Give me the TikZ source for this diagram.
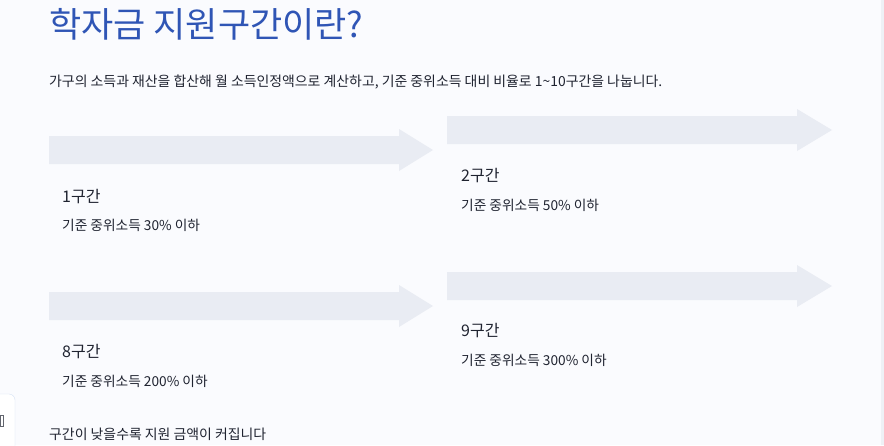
\documentclass[tikz,border=0pt]{standalone}
\usepackage{fontspec}
\setmainfont{Noto Sans CJK KR}
\usepackage{tikz}

\definecolor{pagebg}{HTML}{FAFBFE}
\definecolor{titleblue}{HTML}{2F55B5}
\definecolor{bandgray}{HTML}{E9ECF3}
\definecolor{inkdark}{HTML}{1F2330}
\definecolor{edgeblue}{HTML}{D5E2F5}
\definecolor{stripgray}{HTML}{EEF1F6}

\tikzset{
  title/.style={anchor=base west, inner sep=0pt, text=titleblue, font=\fontsize{35}{40}\selectfont},
  lead/.style={anchor=base west, inner sep=0pt, text=inkdark, font=\fontsize{13.9}{16}\selectfont},
  bandname/.style={anchor=base west, inner sep=0pt, text=inkdark, font=\fontsize{16}{19}\selectfont},
  bandnote/.style={anchor=base west, inner sep=0pt, text=inkdark, font=\fontsize{13.7}{16}\selectfont},
  bandarrow/.style={fill=bandgray},
}

\begin{document}
\begin{tikzpicture}[x=1pt,y=-1pt]
      \useasboundingbox (0,0) rectangle (884,445);
      \fill[pagebg] (0,0) rectangle (884,445);
      \fill[stripgray] (881,0) rectangle (884,445);

      % clipped side widget
      \begin{scope}
        \clip (0,0) rectangle (884,445);
        \draw[edgeblue, fill=white, rounded corners=6pt] (-20,394) rectangle (15,452);
        \draw[inkdark!70, line width=0.8pt] (0,415) rectangle (3,426);
      \end{scope}

      \node[title](T) at (49,37) {학자금 지원구간이란?};
      \node[lead](L) at (49,86) {가구의 소득과 재산을 합산해 월 소득인정액으로 계산하고, 기준 중위소득 대비 비율로 1\textasciitilde10구간을 나눕니다.};

      % band arrows
      \fill[bandarrow, shift={(49,136)}] (0,0) -- (350,0) -- (350,-7) -- (384,14) -- (350,35) -- (350,28) -- (0,28) -- cycle;
      \fill[bandarrow, shift={(447,116)}] (0,0) -- (350,0) -- (350,-7) -- (385,14) -- (350,35) -- (350,28) -- (0,28) -- cycle;
      \fill[bandarrow, shift={(49,292)}] (0,0) -- (350,0) -- (350,-7) -- (384,14) -- (350,35) -- (350,28) -- (0,28) -- cycle;
      \fill[bandarrow, shift={(447,272)}] (0,0) -- (350,0) -- (350,-7) -- (385,14) -- (350,35) -- (350,28) -- (0,28) -- cycle;

      \node[bandname](B1) at (62,202) {1구간};
      \node[bandnote](N1) at (62,230) {기준 중위소득 30\% 이하};
      \node[bandname](B2) at (461,181) {2구간};
      \node[bandnote](N2) at (461,210) {기준 중위소득 50\% 이하};
      \node[bandname](B8) at (62,357) {8구간};
      \node[bandnote](N8) at (62,386) {기준 중위소득 200\% 이하};
      \node[bandname](B9) at (461,336) {9구간};
      \node[bandnote](N9) at (461,365) {기준 중위소득 300\% 이하};

      \node[lead](F) at (49,439) {구간이 낮을수록 지원 금액이 커집니다};
\end{tikzpicture}
\end{document}
